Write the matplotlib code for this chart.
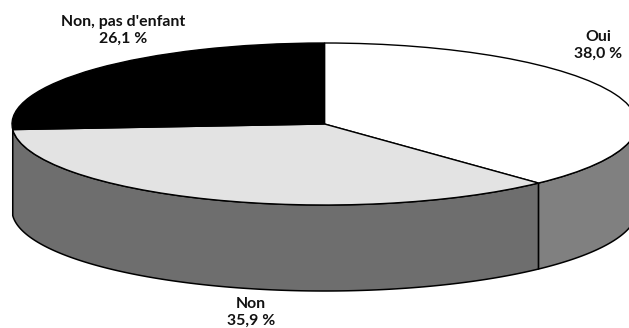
import numpy as np
from matplotlib import pyplot as plt

labels = ["Oui", "Non", "Non, pas d'enfant"]
values = [38.0, 35.9, 26.1]
value_texts = ["38,0 %", "35,9 %", "26,1 %"]
top_colors = ["#ffffff", "#e3e3e3", "#000000"]
side_colors = ["#808080", "#6e6e6e", None]

WIDTH = 629
HEIGHT = 328
CENTER_X = 324.5
CENTER_Y = 124
RADIUS_X = 312.5
RADIUS_Y = 81
DEPTH = 86 / RADIUS_Y

label_pos = [(598, 45.5), (251, 312.5), (123, 30.5)]

plt.rcParams['font.family'] = ['Lato', 'DejaVu Sans']

fig = plt.figure(figsize=(WIDTH / 100, HEIGHT / 100), dpi=100)
ax = fig.add_axes([0, 0, 1, 1])

# side wall of the disc, one band per visible slice
angles = 90 - 3.6 * np.cumsum([0] + values)
for i, color in enumerate(side_colors):
    if color is None:
        continue
    t = np.radians(np.linspace(angles[i], angles[i + 1], 200))
    # only the part facing the viewer has a wall
    t = t[np.sin(t) <= 0]
    x = np.cos(t)
    y = np.sin(t)
    ax.fill(np.r_[x, x[::-1]], np.r_[y, y[::-1] - DEPTH],
            facecolor=color, edgecolor="black", linewidth=1.1, zorder=1)

ax.pie(values, colors=top_colors, startangle=90, counterclock=False, radius=1,
       wedgeprops={"edgecolor": "black", "linewidth": 1.0, "zorder": 2})

ax.set_aspect("auto")
ax.set_xlim(-CENTER_X / RADIUS_X, (WIDTH - CENTER_X) / RADIUS_X)
ax.set_ylim((CENTER_Y - HEIGHT) / RADIUS_Y, CENTER_Y / RADIUS_Y)
ax.axis("off")

for name, val, (px, py) in zip(labels, value_texts, label_pos):
    fig.text(px / WIDTH, 1 - py / HEIGHT, f"{name}\n{val}", ha="center", va="center",
             fontsize=11.4, fontweight="bold", color="#111111", linespacing=1.3)

fig.savefig("out.png", dpi=100)
